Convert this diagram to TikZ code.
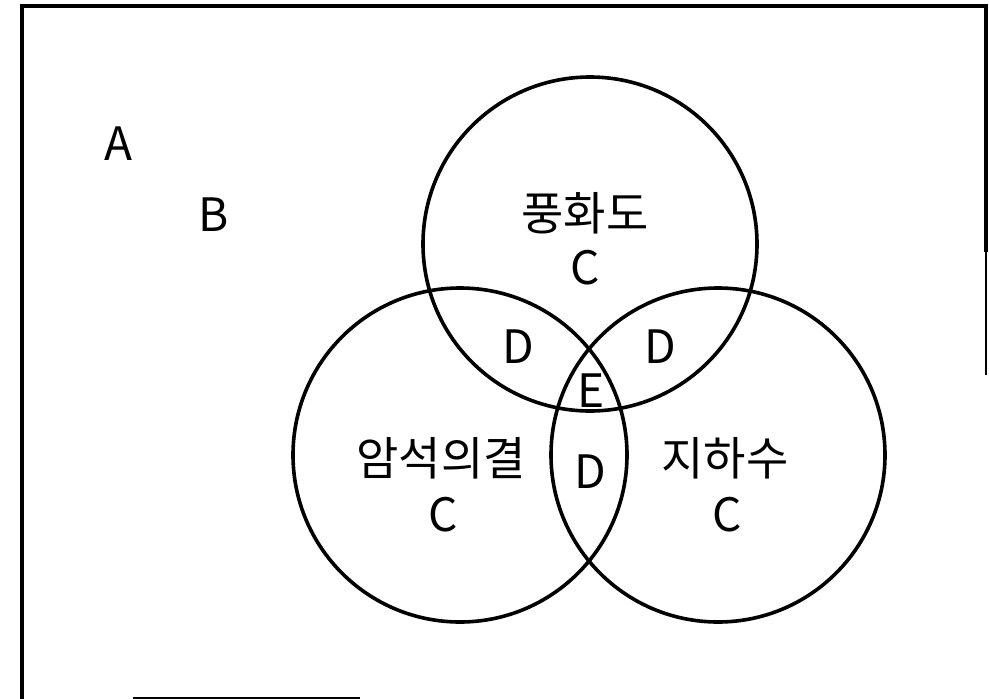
\documentclass[tikz,border=0pt]{standalone}
\usepackage{fontspec}
\setmainfont{Noto Sans CJK KR}
\begin{document}
\begin{tikzpicture}[x=1pt,y=-1pt,
  ring/.style={line width=3.6pt,draw=black},
  framel/.style={line width=3.8pt,draw=black,line cap=rect},
  lbl/.style={inner sep=0pt,font=\fontsize{46}{48}\selectfont}]
\useasboundingbox (0,0) rectangle (989,699);
% frame (as visible in the scan)
\coordinate (f1) at (22,699);
\coordinate (f2) at (22,6);
\coordinate (f3) at (986,6);
\coordinate (f4) at (986,250);
\coordinate (f5) at (986,375);
\coordinate (g1) at (133,698);
\coordinate (g2) at (360,698);
\draw[framel] (f1) -- (f2) -- (f3) -- (f4);
\draw[line width=1.6pt] (f4) -- (f5);
\draw[line width=1.6pt] (g1) -- (g2);
% circles
\coordinate (ct) at (590,244);
\coordinate (cl) at (460,455);
\coordinate (cr) at (718,455);
\draw[ring] (ct) circle (167);
\draw[ring] (cl) circle (167);
\draw[ring] (cr) circle (167);
% labels
\node[lbl] (a) at (118,144) {A};
\node[lbl] (b) at (214,215) {B};
\node[lbl] (t1) at (585,213) {풍화도};
\node[lbl] (t2) at (585,268) {C};
\node[lbl] (l1) at (441,458) {암석의결};
\node[lbl] (l2) at (443,515) {C};
\node[lbl] (r1) at (725,458) {지하수};
\node[lbl] (r2) at (727,515) {C};
\node[lbl] (d1) at (518,347) {D};
\node[lbl] (d2) at (660,347) {D};
\node[lbl] (e) at (591,391) {E};
\node[lbl] (d3) at (590,472) {D};
\end{tikzpicture}
\end{document}
